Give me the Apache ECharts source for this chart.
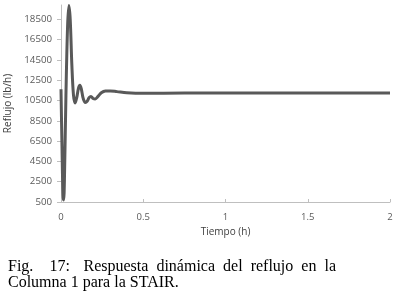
<!DOCTYPE html>
<html><head><meta charset="utf-8">
<script src="https://cdn.jsdelivr.net/npm/echarts@6/dist/echarts.min.js"></script>
<style>html,body{margin:0;padding:0;background:#fff}#c{width:398px;height:298px}</style>
</head><body><div id="c"></div>
<script>
// time (h)
var tiempo = [0, 0.006, 0.012, 0.016, 0.021, 0.03, 0.04, 0.048, 0.056, 0.066, 0.076, 0.086, 0.096, 0.106, 0.115, 0.124, 0.135, 0.148, 0.16, 0.172, 0.182, 0.195, 0.208, 0.225, 0.245, 0.27, 0.3, 0.34, 0.4, 0.5, 0.75, 1.0, 1.4, 1.7, 2.0];
// reflux (lb/h)
var reflujo = [11600, 6000, 1200, 700, 2800, 11000, 17800, 19850, 18500, 14000, 11000, 10250, 10800, 11700, 12000, 11600, 10700, 10300, 10450, 10800, 10900, 10700, 10650, 10900, 11250, 11430, 11440, 11370, 11260, 11200, 11230, 11240, 11240, 11230, 11230];
var xTicks = [0, 0.5, 1, 1.5, 2];
var yTicks = [500, 2500, 4500, 6500, 8500, 10500, 12500, 14500, 16500, 18500];
var captionLine1 = ["Fig.", "17:", "Respuesta", "dinámica", "del", "reflujo", "en", "la"];
var captionLine2 = "Columna 1 para la STAIR.";

var capFont = '16px "Liberation Serif"';
var cv = document.createElement('canvas').getContext('2d');
cv.font = capFont;
var widths = captionLine1.map(function(w){ return cv.measureText(w).width; });
var totalW = widths.reduce(function(a,b){return a+b;}, 0);
var x0 = 8, x1 = 336;
var weights = [2, 1.7, 1, 1, 1, 1, 1];
var wsum = weights.reduce(function(a,b){return a+b;}, 0);
var unit = (x1 - x0 - totalW) / wsum;
var graphics = [];
var cx = x0;
captionLine1.forEach(function(w, i){
  graphics.push({type:'text', left: cx, top: 259, style:{text: w, font: capFont, fill:'#000'}});
  cx += widths[i] + (i < weights.length ? weights[i]*unit : 0);
});
graphics.push({type:'text', left: x0, top: 275, style:{text: captionLine2, font: capFont, fill:'#000'}});

var data = tiempo.map(function(t, i){ return [t, reflujo[i]]; });
var labFont = '"Open Sans", sans-serif';
var chart = echarts.init(document.getElementById('c'), null, {renderer:'canvas'});
chart.setOption({
  animation: false,
  backgroundColor: '#fff',
  grid: {left: 61, right: 8, top: 5, bottom: 96, containLabel: false, outerBoundsMode: 'none'},
  xAxis: {
    type: 'value', min: 0, max: 2, interval: 0.5,
    name: 'Tiempo (h)', nameLocation: 'middle', nameGap: 24,
    nameTextStyle: {fontFamily: labFont, fontSize: 10, color: '#404040'},
    axisLine: {lineStyle: {color: '#bfbfbf', width: 1}},
    axisTick: {show: true, inside: true, length: 3, lineStyle: {color: '#bfbfbf'}},
    axisLabel: {margin: 10, fontFamily: labFont, fontSize: 9.5, color: '#595959',
      formatter: function(v){ return xTicks.indexOf(v) >= 0 ? String(v) : ''; }},
    splitLine: {show: false}
  },
  yAxis: {
    type: 'value', min: 500, max: 19900, interval: 2000,
    name: 'Reflujo (lb/h)', nameLocation: 'middle', nameGap: 45,
    nameTextStyle: {fontFamily: labFont, fontSize: 10, color: '#404040'},
    axisLine: {show: true, lineStyle: {color: '#bfbfbf', width: 1}},
    axisTick: {show: true, length: 4, lineStyle: {color: '#bfbfbf'}},
    axisLabel: {margin: 9, fontFamily: labFont, fontSize: 9.7, color: '#595959',
      showMaxLabel: false,
      formatter: function(v){ return yTicks.indexOf(v) >= 0 ? String(v) : ''; }},
    splitLine: {show: false}
  },
  series: [{
    type: 'line', data: data, showSymbol: false, smooth: 0.35,
    lineStyle: {color: '#595959', width: 3}
  }],
  graphic: graphics
});
</script>
</body></html>
